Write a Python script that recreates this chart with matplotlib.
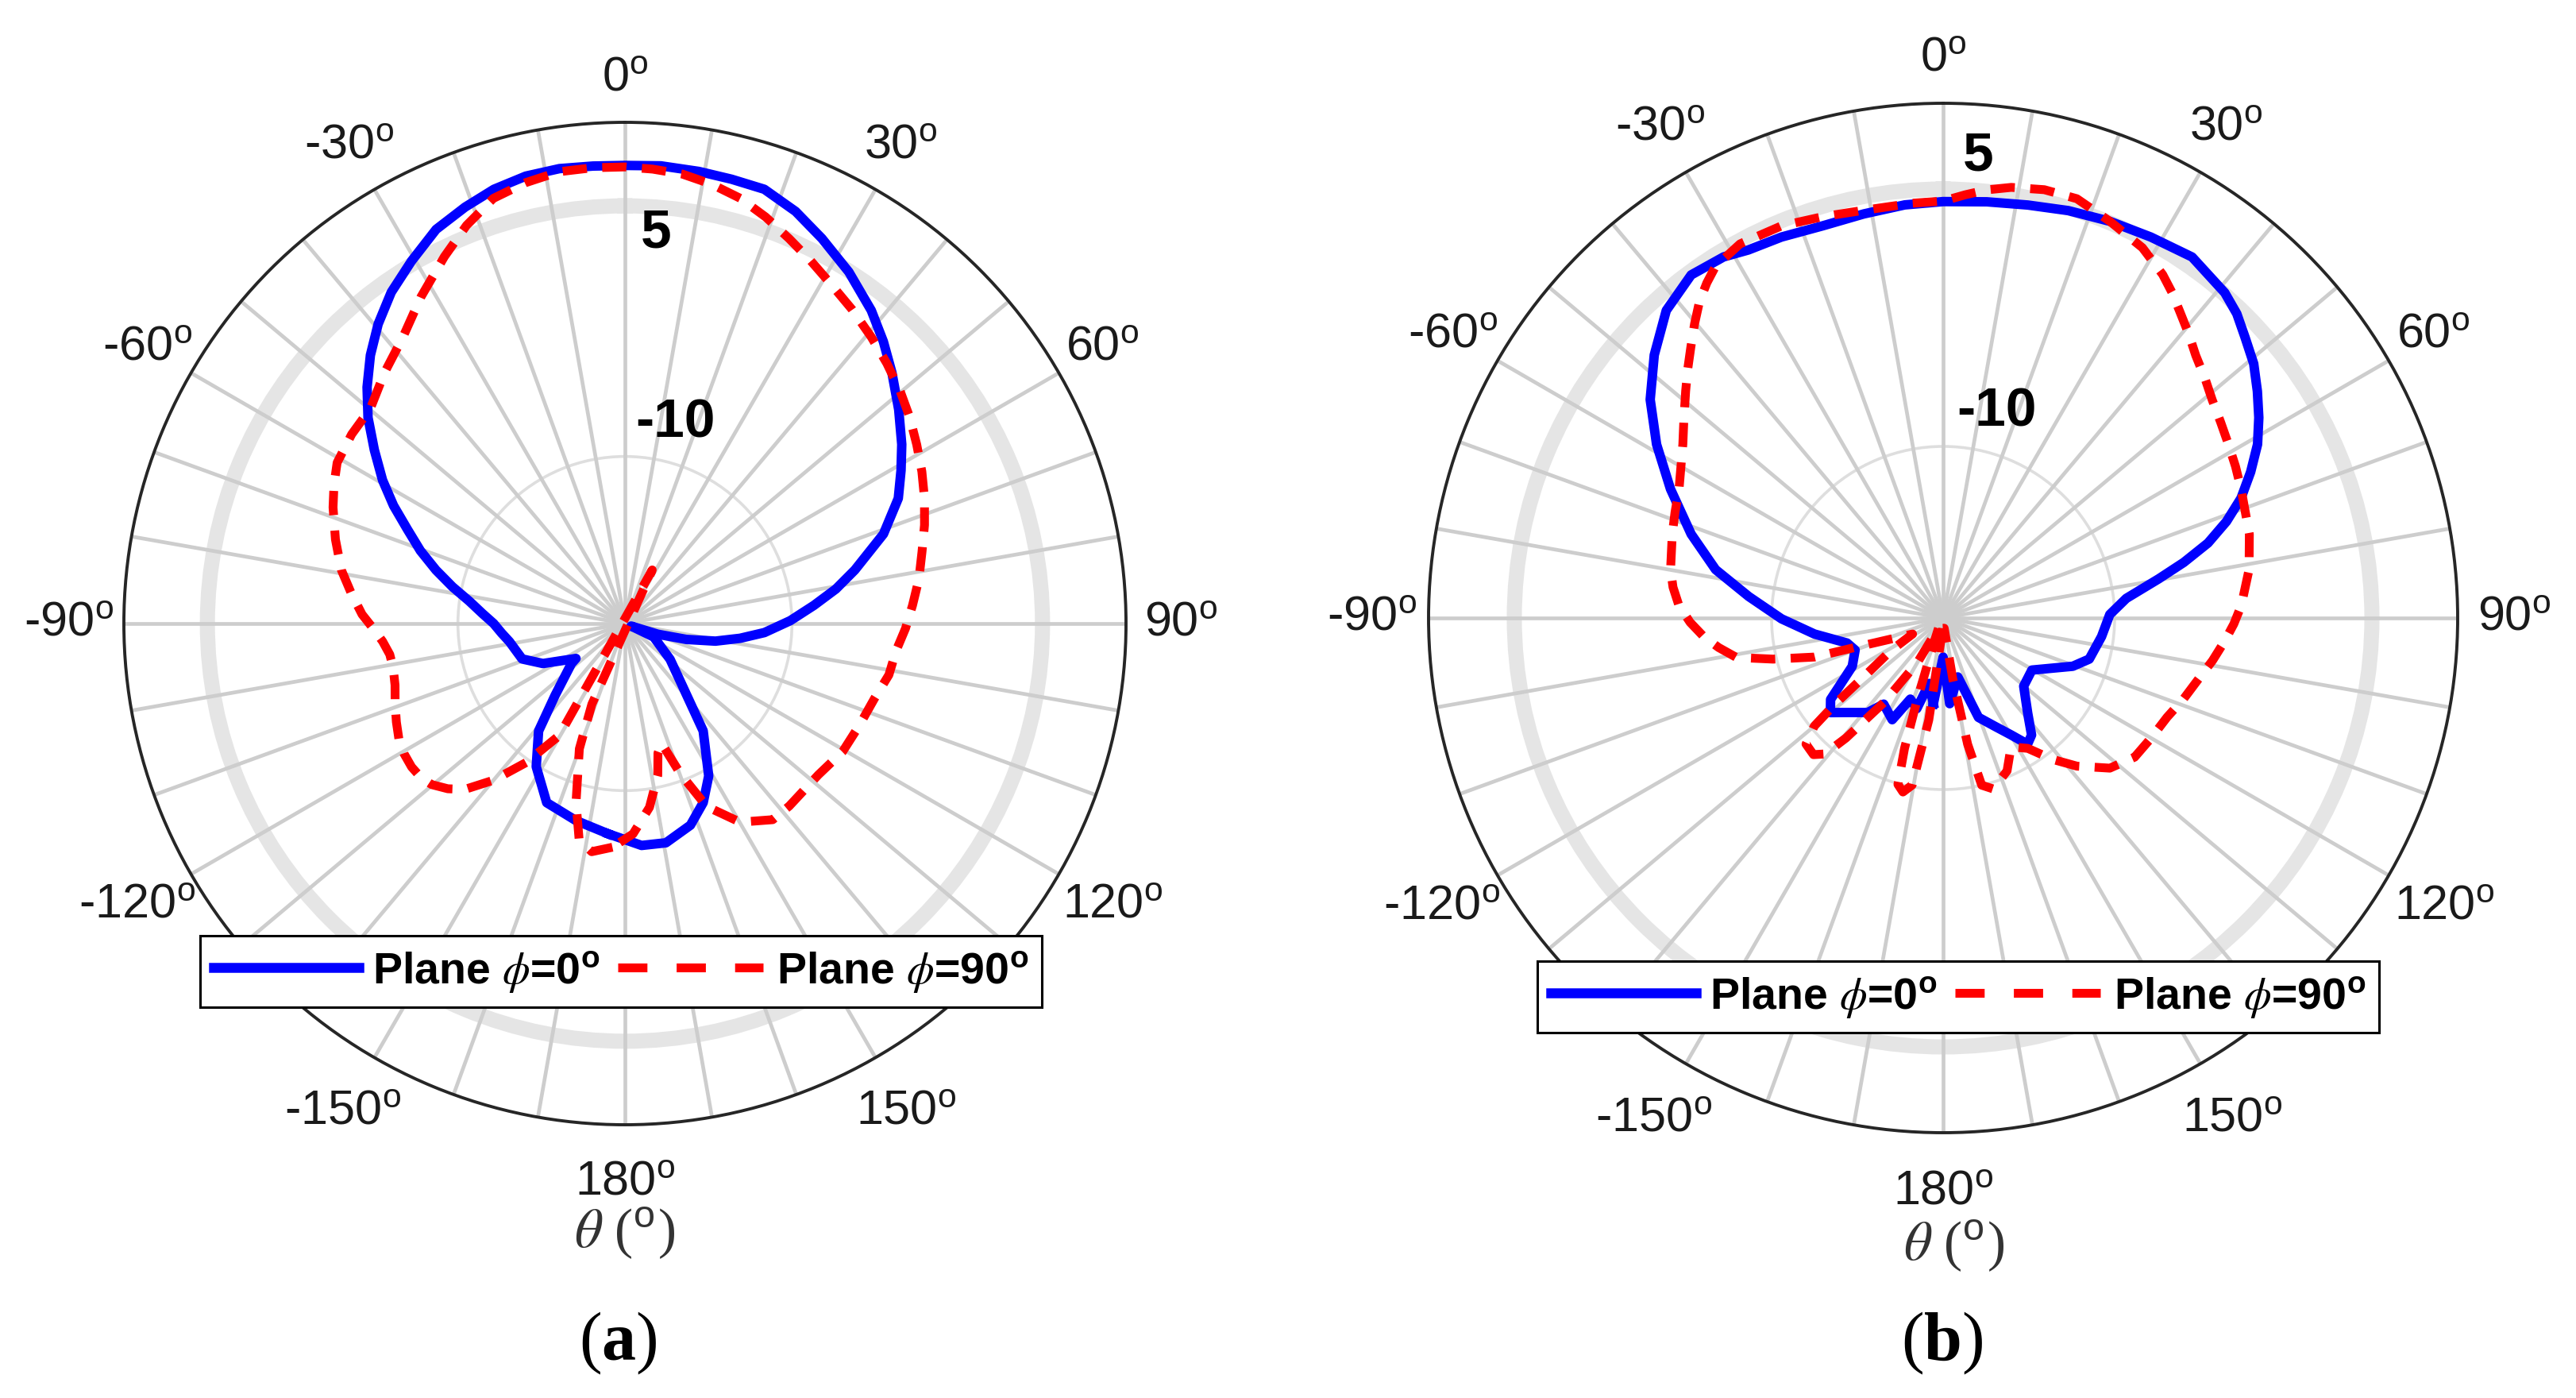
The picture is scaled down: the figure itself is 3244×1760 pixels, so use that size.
import numpy as np
import matplotlib
matplotlib.use('Agg')
import matplotlib.pyplot as plt
from matplotlib.lines import Line2D

plt.rcParams['font.family'] = ['Liberation Sans', 'DejaVu Sans']
plt.rcParams['mathtext.fontset'] = 'custom'
plt.rcParams['mathtext.rm'] = 'Liberation Sans'
plt.rcParams['mathtext.it'] = 'STIXGeneral:italic'
plt.rcParams['mathtext.bf'] = 'Liberation Serif:bold'
plt.rcParams['mathtext.sf'] = 'Liberation Sans:bold'
plt.rcParams['lines.scale_dashes'] = False

# ---------------- data (theta in degrees, gain in dB) ----------------
R_MIN, R_MAX = -20, 10
r_ticks = [-10, 5]
r_tick_labels = ['-10', '5']
theta_label_deg = [0, 30, 60, 90, 120, 150, 180, -150, -120, -90, -60, -30]
series_labels = [r'Plane $\phi$=0$^{\mathsf{o}}$', r'Plane $\phi$=90$^{\mathsf{o}}$']

# (a) Plane phi=0
a0_theta = [-175.5, -166, -156.4, -148.2, -141.2, -135.8, -126.8, -125.5, -116, -109, -98.9, -94.5, -90,
            -86, -81.8, -78, -74.2, -70.4, -66.6, -63, -59.4, -55.3, -51.3, -47.5, -43.5, -39.5, -35.2,
            -30.5, -25.6, -21, -16.8, -12.5, -8.2, -4, 0, 4.5, 9.3, 13.5, 17.8, 22.5, 27.1, 32.5,
            38.2, 42.5, 46.8, 52, 57.1, 61, 65.4, 70.9, 76.9, 80.7, 84.5, 89, 93.7, 97.3, 101,
            104.5, 108, 112, 115, 128.4, 137.4, 143.9, 151.2, 156.4, 162, 169.4, 175.7]
a0_db = [-7.37, -7.85, -8.3, -9.92, -11.75, -14.0, -16.0, -16.4, -14.54, -13.49, -13.0, -12.6, -12.14,
         -11.45, -10.58, -9.45, -8.24, -7.0, -5.81, -4.45, -3.14, -1.75, -0.29, 0.94, 2.14, 3.23, 4.27,
         5.18, 6.16, 6.7, 7.15, 7.43, 7.51, 7.45, 7.42, 7.48, 7.42, 7.35, 7.3, 6.7, 5.89, 4.95,
         3.85, 2.9, 1.93, 0.8, -0.26, -1.1, -2.0, -3.62, -5.87, -7.2, -8.63, -10.1, -11.63, -13.05, -14.48,
         -16.2, -17.93, -19.6, -18.1, -16.55, -14.9, -12.05, -9.59, -8.3, -7.31, -6.65, -6.68]

# (a) Plane phi=90
a90_theta = [-176.8, -171.7, -168, -164.7, -160, -157.7, -153, -149.6, -144.6, -140, -136, -133,
             -129.8, -127, -123.9, -120.5, -117.2, -113.3, -109.3, -105, -100.9, -97.5, -94.2, -91,
             -88, -83.6, -79.3, -73.8, -68.3, -64.5, -60.8, -55.3, -49.8, -43.8, -37.8, -32, -26.2,
             -21.7, -17.2, -12.7, -8.3, -4, 0, 3.5, 7.3, 11.2, 15.2, 19.1, 23.1, 27.1, 31.1, 35.9,
             40.7, 45.2, 49.8, 54.1, 58.5, 62.9, 67.3, 71.8, 76.4, 81.4, 86.4, 91, 95.7,
             101, 106.7, 113.5, 120.5, 128, 138, 143, 149.9, 155.9, 159.7, 163, 165.7, 167.8, 172.4, 177.8]
a90_db = [-6.59, -6.2, -6.8, -8.9, -12.02, -14.78, -23.6, -12.23, -9.8, -7.76, -6.2, -5.5,
          -4.94, -4.7, -4.61, -4.65, -4.79, -5.1, -5.42, -5.75, -5.87, -5.8, -5.45, -4.9,
          -4.25, -3.5, -2.72, -1.95, -1.19, -0.7, -0.26, -0.1, -0.05, 0.8, 1.69, 3.05, 4.48,
          5.65, 6.64, 7.05, 7.33, 7.35, 7.33, 7.25, 7.12, 6.8, 6.37, 5.75, 5.05, 4.4, 3.79, 3.2,
          2.62, 2.1, 1.57, 1.05, 0.49, -0.03, -0.56, -1.12, -1.7, -2.2, -2.75, -3.2, -3.68,
          -3.9, -4.4, -4.7, -4.88, -5.3, -5.3, -5.3, -6.26, -8.0, -10.4, -12.5, -12.0, -10.7, -8.9, -7.4]

# (b) Plane phi=0
b0_theta = [-173.5, -168, -163.8, -158, -153.4, -145.4, -141.4, -134.5, -130, -125.9, -118, -110,
            -104.6, -97.1, -90.3, -83.7, -78, -71.6, -64.7, -58.8, -53.3, -47.7, -42, -36.3,
            -31.3, -27.9, -23, -17.1, -11.1, -5.3, 0, 6, 11.6, 17.1, 22.8, 28.6, 34.6, 40.9,
            44, 47.1, 50.7, 54.2, 57.6, 61.1, 64.6, 68.1, 71.2, 74.2, 77, 79.7, 83.9, 88.8, 96.7,
            105.7, 110.4, 120.4, 130.2, 138.3, 142.9, 146.2, 149.8, 154.5, 160.4, 166, 175.6, 180]
b0_db = [-14.96, -16.1, -14.5, -14.9, -13.37, -13.9, -12.95, -12.14, -11.42, -11.9, -14.0, -14.54,
         -14.21, -12.44, -10.58, -8.6, -6.44, -4.52, -2.42, -0.47, 1.3, 2.77, 4.12, 4.81,
         4.63, 4.27, 4.12, 3.91, 4.0, 4.18, 4.27, 4.39, 4.57, 4.84, 5.08, 5.29, 5.56, 5.08,
         4.65, 4.03, 3.4, 2.59, 1.8, 0.94, -0.15, -1.28, -2.55, -3.95, -5.6, -7.22, -9.26, -10.28, -10.7,
         -11.15, -11.93, -14.0, -13.85, -12.59, -11.45, -11.15, -12.11, -13.01, -13.85, -16.46, -14.99, -17.72]

# (b) Plane phi=90
b90_theta = [-178, -172, -169.5, -167, -164.8, -163.5, -162.5, -160, -155, -150, -145, -141, -139,
             -136.5, -132.6, -130, -128.5, -126.6, -122, -117.7, -109, -106.9, -103.6, -100.8,
             -97.5, -94.4, -91, -87.3, -83.5, -79.9, -72.8, -68.5, -64, -60, -56.3, -52.5, -48.6,
             -45.7, -42.9, -40.2, -37.6, -35.2, -32.9, -28.5, -22.4, -16.7, -11.1, -4.2, 0, 3, 5.8,
             9.0, 13.3, 17.7, 22.8, 28.3, 32.6, 35.1, 37.6, 40.8, 43.9, 47.5, 51, 54.8, 58.7,
             62.6, 66.6, 74.7, 81, 87.6, 91.2, 94.7, 99, 103, 108.5, 113.9, 120, 126, 132, 137.9,
             142.3, 147, 152.2, 157.3, 163.7, 167, 169, 171, 174]
b90_db = [-19.4, -14.0, -10.1, -9.59, -9.95, -12.08, -14.78, -18.2, -19.4, -17.0, -14.0, -11.0, -9.5,
          -9.02, -9.14, -10.19, -11.96, -14.21, -16.4, -17.99, -15.08, -12.17, -9.8, -7.73,
          -6.8, -5.99, -5.25, -4.58, -4.15, -3.86, -3.47, -3.2, -2.87, -2.35, -1.76, -0.95, 0.01,
          0.8, 1.6, 2.45, 3.28, 3.9, 4.42, 4.81, 4.72, 4.42, 4.21, 4.24, 4.3, 4.7, 5.08,
          5.41, 5.65, 5.65, 5.08, 4.51, 3.76, 3.2, 2.59, 1.9, 1.24, 0.7, 0.19, -0.2, -0.53,
          -0.8, -1.07, -1.49, -1.94, -2.6, -3.05, -3.53, -4.1, -4.64, -5.2, -5.72, -6.0, -6.2, -6.92, -8.36,
          -9.59, -10.94, -11.51, -10.34, -9.62, -10.0, -12.5, -16.4, -19.4]

# ---------------- styling ----------------
BLUE = '#0000ff'
RED = '#ff0000'
TXT = '#1a1a1a'
W, H = 3244, 1760


def polar_xy(theta_deg, db):
    """Values below the floor are reflected through the origin (as in the original polar plot)."""
    th = np.asarray(theta_deg, float)
    r = np.asarray(db, float)
    neg = r < R_MIN
    th = np.where(neg, th + 180.0, th)
    r = np.where(neg, 2 * R_MIN - r, r)
    th = np.append(th, th[0])
    r = np.append(r, r[0])
    return np.deg2rad(th), r


def frac_to_r(f):
    return R_MIN + (R_MAX - R_MIN) * f


label_dist = {0: 1.087, 30: 1.10, 60: 1.10, 90: 1.11, 120: 1.125, 150: 1.125, 180: 1.115}


def make_panel(rect, th0, db0, th90, db90, rlab_pos, legend_center):
    ax = fig.add_axes(rect, projection='polar')
    ax.set_theta_zero_location('N')
    ax.set_theta_direction(-1)
    ax.set_rlim(R_MIN, R_MAX)
    ax.set_thetagrids(np.arange(0, 360, 10), labels=[])
    ax.set_rgrids(r_ticks, labels=['' for _ in r_ticks])
    ax.tick_params(axis='both', length=0)
    ax.xaxis.grid(True, color='#cdcdcd', linewidth=3.4)
    ax.yaxis.grid(True)
    ax.xaxis.set_zorder(1.6)
    ax.yaxis.set_zorder(1.5)
    yt = ax.yaxis.get_major_ticks()
    yt[0].gridline.set_color('#dedede')
    yt[0].gridline.set_linewidth(2.6)
    yt[1].gridline.set_color('#e5e5e5')
    yt[1].gridline.set_linewidth(13.7)
    ax.spines['polar'].set_color('#262626')
    ax.spines['polar'].set_linewidth(2.8)

    t, r = polar_xy(th0, db0)
    ax.plot(t, r, color=BLUE, lw=8.6, solid_joinstyle='round', zorder=2)
    t, r = polar_xy(th90, db90)
    ax.plot(t, r, color=RED, lw=8.0, dashes=(22, 14), zorder=2.1)

    for a in theta_label_deg:
        f = label_dist[abs(a)]
        ax.text(np.deg2rad(a), frac_to_r(f), f'{a}' + r'$^{\mathrm{o}}$', ha='center', va='center',
                fontsize=44, color=TXT, clip_on=False)

    for lab, (ang, f) in zip(r_tick_labels, rlab_pos):
        ax.text(np.deg2rad(ang), frac_to_r(f), lab, ha='center', va='center', fontsize=50,
                fontweight='bold', color='black', clip_on=False, zorder=3)

    h0 = Line2D([], [], color=BLUE, lw=9)
    h90 = Line2D([], [], color=RED, lw=8, dashes=(26.5, 26.5))
    leg = ax.legend([h0, h90], series_labels, ncol=2, loc='center',
                    bbox_to_anchor=legend_center, bbox_transform=fig.transFigure,
                    prop={'family': 'Liberation Sans', 'weight': 'bold', 'size': 40},
                    handlelength=3.3, handletextpad=0.3, columnspacing=0.4,
                    borderpad=0.3, borderaxespad=0, fancybox=False, framealpha=1,
                    edgecolor='black')
    leg.get_frame().set_linewidth(2.2)
    leg.set_zorder(10)
    return ax


fig = plt.figure(figsize=(W / 100, H / 100), dpi=100)

# left panel: centre (787, 785) px, radius 631 px
axa = make_panel([156 / W, 1 - 1416 / H, 1262 / W, 1262 / H],
                 a0_theta, a0_db, a90_theta, a90_db,
                 [(14, 0.413), (4.5, 0.782)], (782 / W, 1 - 1223 / H))
# right panel: centre (2447, 778) px, radius 648 px
axb = make_panel([1799 / W, 1 - 1426 / H, 1296 / W, 1296 / H],
                 b0_theta, b0_db, b90_theta, b90_db,
                 [(14.5, 0.414), (4.3, 0.90)], (2466 / W, 1 - 1255 / H))

for x, y in [(787, 1553), (2461, 1569)]:
    fig.text(x / W, 1 - y / H, r'$\theta$ ($^{\mathrm{o}}$)', ha='center', va='center',
             fontsize=50, family='Liberation Serif', color='#333333')

for x, lab in [(778, 'a'), (2446, 'b')]:
    fig.text(x / W, 1 - 1691 / H, r'($\mathbf{' + lab + r'}$)', ha='center', va='center',
             fontsize=62, family='Liberation Serif', color='black')

fig.savefig('out.png', dpi=100)
